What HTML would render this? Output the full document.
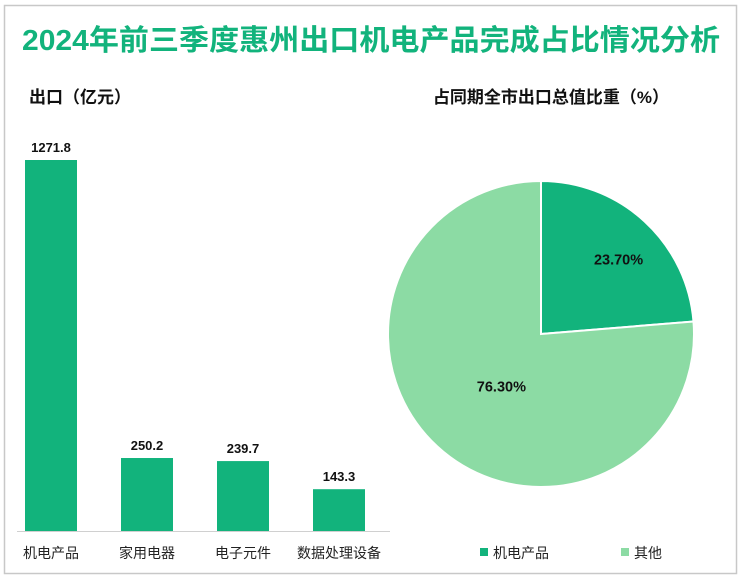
<!DOCTYPE html>
<html><head><meta charset="utf-8">
<style>
body{margin:0;background:#fff;}
svg{display:block;font-family:"Liberation Sans","Noto Sans CJK SC",sans-serif;}
</style></head>
<body>
<svg id="chart" width="741" height="578" viewBox="0 0 741 578">
<rect x="4.5" y="5.5" width="732" height="568" fill="#fff" stroke="#c8c8c8" stroke-width="1.5"/>
<text x="22" y="50" font-size="29" font-weight="bold" fill="#12b37c" textLength="698" lengthAdjust="spacingAndGlyphs">2024年前三季度惠州出口机电产品完成占比情况分析</text>
<text x="29" y="103" font-size="17" font-weight="bold" fill="#111">出口（亿元）</text>
<text x="551" y="103" font-size="17" font-weight="bold" fill="#111" text-anchor="middle">占同期全市出口总值比重（%）</text>
<g id="bars"></g>
<g id="pie"></g>
<line x1="17" y1="531.5" x2="390" y2="531.5" stroke="#d0d0d0"/>
<rect x="480" y="548" width="8" height="8" fill="#12b37c"/>
<text x="493" y="558" font-size="14" fill="#222">机电产品</text>
<rect x="621" y="548" width="8" height="8" fill="#8cdba4"/>
<text x="634" y="558" font-size="14" fill="#222">其他</text>
</svg>
<script>
const categories=["机电产品","家用电器","电子元件","数据处理设备"];
const values=[1271.8,250.2,239.7,143.3];
const valueLabels=["1271.8","250.2","239.7","143.3"];
const pieLabels=["机电产品","其他"];
const pieValues=[23.7,76.3];
const pieText=["23.70%","76.30%"];
const NS="http://www.w3.org/2000/svg";
const base=531,top0=160,maxV=1271.8;
const y=v=>base-(v/maxV)*(base-top0);
const xc=i=>51+i*96;
const bars=document.getElementById('bars');
function mk(t,a){const e=document.createElementNS(NS,t);for(const k in a)e.setAttribute(k,a[k]);return e;}
values.forEach((v,i)=>{
 const r=mk('rect',{x:xc(i)-26,y:y(v),width:52,height:base-y(v),fill:'#12b37c'});
 
 
 bars.appendChild(r);
 const t=mk('text',{x:xc(i),y:y(v)-8,'font-size':13,'font-weight':'bold','text-anchor':'middle',fill:'#111'});
 
 
 t.textContent=valueLabels[i];bars.appendChild(t);
 const c=mk('text',{x:xc(i),y:558,'font-size':14,'text-anchor':'middle',fill:'#222'});
 
 
 c.textContent=categories[i];bars.appendChild(c);
});
const pie=document.getElementById('pie');
const cx=541,cy=334,R=153,colors=['#12b37c','#8cdba4'],lf=[0.69,0.44];
const tot=pieValues.reduce((a,b)=>a+b,0);
let a0=-Math.PI/2;
pieValues.forEach((v,i)=>{
 const a1=a0+v/tot*2*Math.PI;
 const large=(a1-a0)>Math.PI?1:0;
 const d=`M${cx},${cy}L${cx+R*Math.cos(a0)},${cy+R*Math.sin(a0)}A${R},${R} 0 ${large} 1 ${cx+R*Math.cos(a1)},${cy+R*Math.sin(a1)}Z`;
 const p=mk('path',{d:d,fill:colors[i],stroke:'#fff','stroke-width':2});
 
 
 pie.appendChild(p);
 const am=(a0+a1)/2,rl=R*lf[i];
 const t=mk('text',{x:cx+rl*Math.cos(am)+6,y:cy+rl*Math.sin(am)+8,'font-size':14.5,'font-weight':'bold','text-anchor':'middle',fill:'#111'});
 
 
 t.textContent=pieText[i];pie.appendChild(t);
 a0=a1;
});
</script>
</body></html>
